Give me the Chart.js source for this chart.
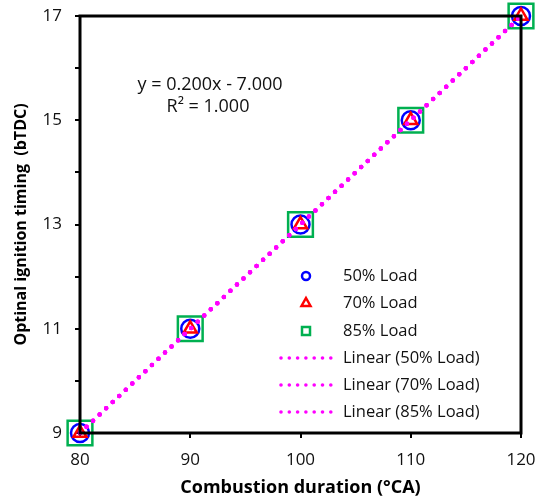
<!DOCTYPE html>
<html>
<head>
<meta charset="utf-8">
<script src="https://cdn.jsdelivr.net/npm/chart.js@4.4.0/dist/chart.umd.min.js"></script>
<style>
  html, body { margin: 0; padding: 0; background: #fff; }
  #wrap { width: 539px; height: 499px; }
</style>
</head>
<body>
<div id="wrap"><canvas id="chart" width="539" height="499"></canvas></div>
<script>
// combustion duration (oCA) vs optimal ignition timing (bTDC)
const duration = [80, 90, 100, 110, 120];
const load50 = [9, 11, 13, 15, 17];
const load70 = [9, 11, 13, 15, 17];
const load85 = [9, 11, 13, 15, 17];
const fitSlope = 0.2;
const fitIntercept = -7.0;
const equationText = ['y = 0.200x - 7.000', 'R\u00B2 = 1.000'];
const seriesNames = ['50% Load', '70% Load', '85% Load'];

const FONT = "'Open Sans', sans-serif";
const MAGENTA = '#ff00ff';

function pts(ys) {
    return duration.map((x, i) => ({ x: x, y: ys[i] }));
}
function fitLine() {
    const x0 = duration[0], x1 = duration[duration.length - 1];
    return [{ x: x0, y: fitSlope * x0 + fitIntercept }, { x: x1, y: fitSlope * x1 + fitIntercept }];
}
function trend(name) {
    return {
        label: 'Linear (' + name + ')',
        data: fitLine(),
        showLine: true,
        borderColor: MAGENTA,
        borderWidth: 4.5,
        borderDash: [0, 9],
        borderCapStyle: 'round',
        pointRadius: 0,
        order: 0
    };
}

// box frame, equation and in-plot legend
const extras = {
    id: 'extras',
    afterDatasetsDraw(chart) {
        const ctx = chart.ctx;
        const a = chart.chartArea;
        ctx.save();
        ctx.strokeStyle = '#000';
        ctx.lineWidth = 3;
        ctx.strokeRect(a.left, a.top, a.right - a.left, a.bottom - a.top);

        ctx.fillStyle = '#111';
        ctx.font = '18px ' + FONT;
        ctx.textAlign = 'center';
        ctx.textBaseline = 'middle';
        ctx.fillText(equationText[0], 210, 85);
        ctx.fillText(equationText[1], 208, 107);

        // legend
        const rowY = [276, 303, 331, 358, 385, 412];
        const textX = 343;
        const markX = 306;
        ctx.textAlign = 'left';
        ctx.font = '16.5px ' + FONT;
        const ds = chart.data.datasets;
        for (let i = 0; i < 6; i++) {
            const d = ds[i];
            const y = rowY[i];
            if (i < 3) {
                ctx.strokeStyle = d.borderColor;
                ctx.lineWidth = 2.5;
                ctx.beginPath();
                if (d.pointStyle === 'circle') {
                    ctx.arc(markX, y, 4, 0, Math.PI * 2);
                } else if (d.pointStyle === 'triangle') {
                    ctx.moveTo(markX, y - 5);
                    ctx.lineTo(markX + 4.5, y + 3);
                    ctx.lineTo(markX - 4.5, y + 3);
                    ctx.closePath();
                } else {
                    ctx.rect(markX - 4, y - 4, 8, 8);
                }
                ctx.stroke();
            } else {
                ctx.fillStyle = MAGENTA;
                for (let k = 0; k < 7; k++) {
                    ctx.beginPath();
                    ctx.arc(281 + k * 8.3, y, 1.8, 0, Math.PI * 2);
                    ctx.fill();
                }
            }
            ctx.fillStyle = '#111';
            ctx.fillText(d.label, textX, y);
        }
        ctx.restore();
    }
};

new Chart(document.getElementById('chart'), {
    type: 'scatter',
    data: {
        datasets: [
            {
                label: seriesNames[0], data: pts(load50),
                pointStyle: 'circle', pointRadius: 9, borderColor: '#0000ff',
                backgroundColor: 'rgba(0,0,0,0)', borderWidth: 2.5, order: 2
            },
            {
                label: seriesNames[1], data: pts(load70),
                pointStyle: 'triangle', pointRadius: 7.5, borderColor: '#ff0000',
                backgroundColor: 'rgba(0,0,0,0)', borderWidth: 2.5, order: 1
            },
            {
                label: seriesNames[2], data: pts(load85),
                pointStyle: 'rect', pointRadius: 17.5, borderColor: '#00b050',
                backgroundColor: 'rgba(0,0,0,0)', borderWidth: 2.5, order: 3
            },
            trend(seriesNames[0]),
            trend(seriesNames[1]),
            trend(seriesNames[2])
        ]
    },
    options: {
        responsive: false,
        animation: false,
        clip: false,
        // big square markers would otherwise push the plot box inwards
        layout: { autoPadding: false, padding: { left: 0, top: 16, right: 18, bottom: 0 } },
        plugins: { legend: { display: false }, tooltip: { enabled: false } },
        scales: {
            x: {
                type: 'linear', min: 80, max: 120,
                ticks: { stepSize: 10, color: '#111', font: { family: FONT, size: 17 }, padding: 12 },
                grid: { drawOnChartArea: false, drawTicks: true, tickLength: 5, color: '#000', lineWidth: 2 },
                border: { display: false },
                title: { display: true, text: 'Combustion duration (\u00B0CA)', color: '#000',
                         font: { family: FONT, size: 18, weight: 'bold' }, padding: { top: 4, bottom: 0 } },
                afterFit(s) {
                    s.height = 66;
                    s.paddingLeft = 0;
                    s.paddingRight = 0;
                }
            },
            y: {
                type: 'linear', min: 9, max: 17,
                ticks: {
                    stepSize: 1, color: '#111', font: { family: FONT, size: 17 }, padding: 13,
                    callback: v => (v % 2 === 1 ? String(v) : '')
                },
                grid: { drawOnChartArea: false, drawTicks: true, tickLength: 5, color: '#000', lineWidth: 2 },
                border: { display: false },
                title: { display: true, text: 'Optinal ignition timing  (bTDC)', color: '#000',
                         font: { family: FONT, size: 16, weight: 'bold' }, padding: { top: 12, bottom: 4 } },
                afterFit(s) {
                    s.width = 80;
                    s.paddingTop = 0;
                    s.paddingBottom = 0;
                }
            }
        }
    },
    plugins: [extras]
});
</script>
</body>
</html>
